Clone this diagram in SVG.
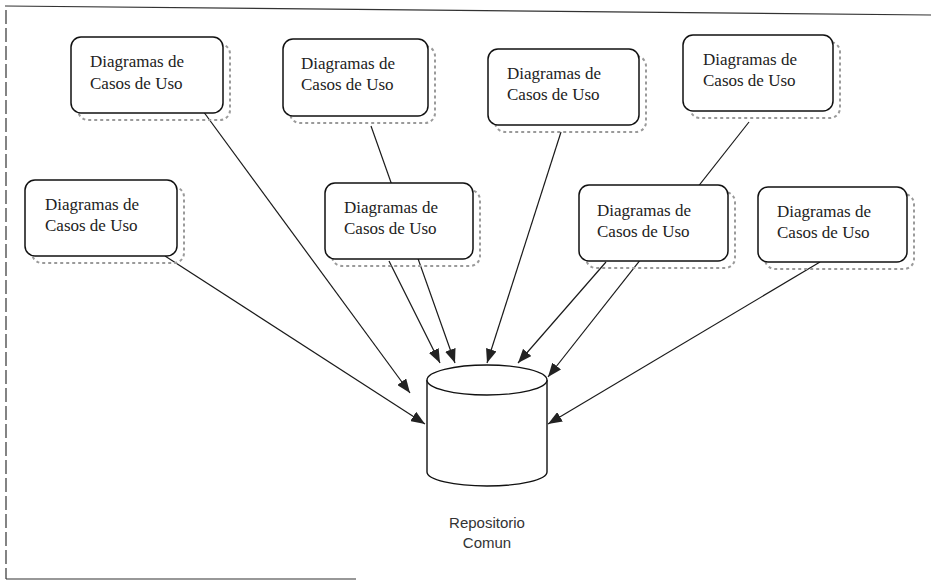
<svg xmlns="http://www.w3.org/2000/svg" width="931" height="582" viewBox="0 0 931 582">
<style>
.box{fill:#fff;stroke:#111;stroke-width:1.5}
.shadow{fill:none;stroke:#9a9a9a;stroke-width:2;stroke-dasharray:3 3}
.t{font-family:"Liberation Serif","Times New Roman",serif;font-size:17px;fill:#222}
.lbl{font-family:"Liberation Sans",Arial,sans-serif;font-size:15px;fill:#333}
.c{fill:none;stroke:#1a1a1a;stroke-width:1.2}
.cyl{fill:#fff;stroke:#111;stroke-width:1.4}
.frame{fill:none;stroke:#333;stroke-width:1.2}
</style>
<defs>
<marker id="ah" markerUnits="userSpaceOnUse" markerWidth="14" markerHeight="11" refX="14" refY="5.5" orient="auto">
<path d="M0,0 L14,5.5 L0,11 z" fill="#222"/>
</marker>
</defs>
<rect width="931" height="582" fill="#fff"/>
<g id="frame">
<line class="frame" x1="5" y1="6" x2="931" y2="15"/>
<line class="frame" x1="6" y1="10" x2="6" y2="579" stroke-dasharray="14 4"/>
<line class="frame" x1="6" y1="579" x2="356" y2="579"/>
</g>
<g id="connectors">
<line class="c" x1="192" y1="96" x2="410" y2="393" marker-end="url(#ah)"/>
<line class="c" x1="165" y1="256" x2="425" y2="424" marker-end="url(#ah)"/>
<line class="c" x1="371" y1="126" x2="455" y2="363" marker-end="url(#ah)"/>
<line class="c" x1="389" y1="261" x2="440" y2="363" marker-end="url(#ah)"/>
<line class="c" x1="561" y1="132" x2="487" y2="363" marker-end="url(#ah)"/>
<line class="c" x1="749" y1="122" x2="548" y2="377" marker-end="url(#ah)"/>
<line class="c" x1="606" y1="262" x2="518" y2="363" marker-end="url(#ah)"/>
<line class="c" x1="820" y1="262" x2="548" y2="424" marker-end="url(#ah)"/>
</g>
<g id="nodeA">
<rect class="shadow" x="78" y="44" width="152" height="76" rx="10"/>
<rect class="box" x="71" y="37" width="152" height="76" rx="10"/>
<text class="t" x="90" y="67">Diagramas de</text>
<text class="t" x="90" y="89">Casos de Uso</text>
</g>
<g id="nodeB">
<rect class="shadow" x="290" y="46" width="145" height="77" rx="10"/>
<rect class="box" x="283" y="39" width="145" height="77" rx="10"/>
<text class="t" x="301" y="69">Diagramas de</text>
<text class="t" x="301" y="90">Casos de Uso</text>
</g>
<g id="nodeC">
<rect class="shadow" x="495" y="56" width="151" height="76" rx="10"/>
<rect class="box" x="488" y="49" width="151" height="76" rx="10"/>
<text class="t" x="507" y="79">Diagramas de</text>
<text class="t" x="507" y="100">Casos de Uso</text>
</g>
<g id="nodeD">
<rect class="shadow" x="690" y="42" width="150" height="76" rx="10"/>
<rect class="box" x="683" y="35" width="150" height="76" rx="10"/>
<text class="t" x="703" y="65">Diagramas de</text>
<text class="t" x="703" y="86">Casos de Uso</text>
</g>
<g id="nodeE">
<rect class="shadow" x="32" y="187" width="152" height="76" rx="10"/>
<rect class="box" x="25" y="180" width="152" height="76" rx="10"/>
<text class="t" x="45" y="210">Diagramas de</text>
<text class="t" x="45" y="231">Casos de Uso</text>
</g>
<g id="nodeF">
<rect class="shadow" x="332" y="190" width="148" height="76" rx="10"/>
<rect class="box" x="325" y="183" width="148" height="76" rx="10"/>
<text class="t" x="344" y="213">Diagramas de</text>
<text class="t" x="344" y="234">Casos de Uso</text>
</g>
<g id="nodeG">
<rect class="shadow" x="586" y="192" width="149" height="76" rx="10"/>
<rect class="box" x="579" y="185" width="149" height="76" rx="10"/>
<text class="t" x="597" y="216">Diagramas de</text>
<text class="t" x="597" y="237">Casos de Uso</text>
</g>
<g id="nodeH">
<rect class="shadow" x="765" y="194" width="149" height="75" rx="10"/>
<rect class="box" x="758" y="187" width="149" height="75" rx="10"/>
<text class="t" x="777" y="217">Diagramas de</text>
<text class="t" x="777" y="238">Casos de Uso</text>
</g>
<g id="repositorio">
<path class="cyl" d="M427,380 L427,472 A60,14 0 0 0 547,472 L547,380"/>
<ellipse class="cyl" cx="487" cy="380" rx="60" ry="15"/>
<text class="lbl" x="487" y="528" text-anchor="middle">Repositorio</text>
<text class="lbl" x="487" y="548" text-anchor="middle">Comun</text>
</g>
</svg>
